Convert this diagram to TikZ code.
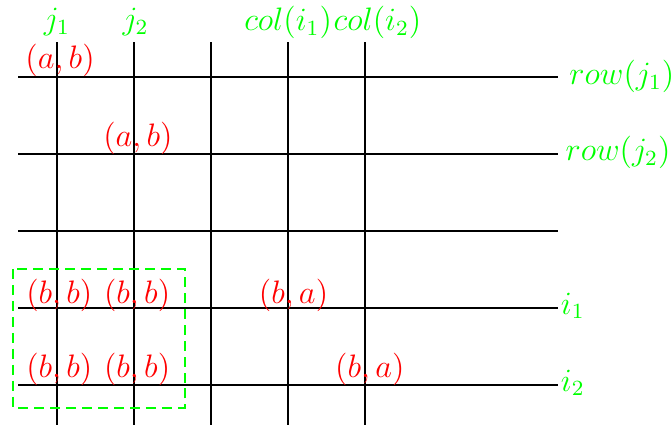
\documentclass[tikz,border=0pt]{standalone}
\usepackage{amsmath}
\usepackage{tikz}

\begin{document}
\begin{tikzpicture}[ line width = 0.65pt,
										heavy/.style={line width=0.95pt},
										pair/.style={text=red, font=\large, inner sep=0pt},
										tag/.style={text=green, font=\large, inner sep=0pt},
										block/.style={draw=green, line width=0.75pt, dash pattern=on 3.7pt off 2.2pt}]

		\useasboundingbox (-0.74,-4.52) rectangle (7.97,1.0);

		% grid
		\foreach \x in {1,3,4}
			\draw (\x,0.45) -- (\x,-4.52);
		\foreach \x in {0,2}
			\draw[heavy] (\x,0.45) -- (\x,-4.52);
		\foreach \y in {-1,-2,-4}
			\draw (-0.5,\y) -- (6.5,\y);
		\foreach \y in {0,-3}
			\draw[heavy] (-0.5,\y) -- (6.5,\y);

		% column and row names
		\node[tag] (j1) at (0,0.71) {$j_1$};
		\node[tag] (j2) at (1.02,0.71) {$j_2$};
		\node[tag, anchor=east] (coli1) at (3.58,0.71) {$col(i_1)$};
		\node[tag, anchor=west] (coli2) at (coli1.east) {$col(i_2)$};
		\node[tag, anchor=west] (rowj1) at (6.64,0.01) {$row(j_1)$};
		\node[tag, anchor=west] (rowj2) at (6.59,-0.98) {$row(j_2)$};
		\node[tag, anchor=west] (i1) at (6.53,-2.97) {$i_1$};
		\node[tag, anchor=west] (i2) at (6.53,-3.97) {$i_2$};

		% entries
		\node[pair] (ab1) at (0.04,0.21) {$(a,b)$};
		\node[pair] (ab2) at (1.05,-0.8) {$(a,b)$};
		\node[pair] (bb11) at (0.03,-2.83) {$(b,b)$};
		\node[pair] (bb12) at (1.04,-2.83) {$(b,b)$};
		\node[pair] (ba1) at (3.07,-2.83) {$(b,a)$};
		\node[pair] (bb21) at (0.03,-3.8) {$(b,b)$};
		\node[pair] (bb22) at (1.04,-3.8) {$(b,b)$};
		\node[pair] (ba2) at (4.06,-3.8) {$(b,a)$};

		% the block
		\draw[block] (-0.57,-2.49) rectangle (1.66,-4.29);

		\end{tikzpicture}
\end{document}
